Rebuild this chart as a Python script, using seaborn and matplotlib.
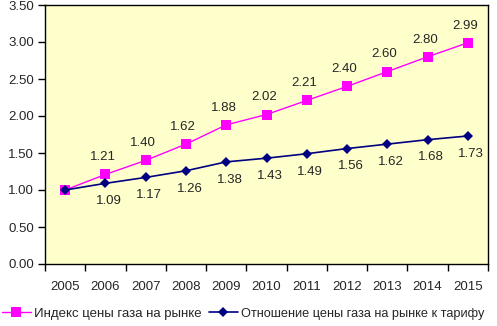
import numpy as np
import pandas as pd
import matplotlib
matplotlib.use("Agg")
import matplotlib.pyplot as plt
from matplotlib.ticker import FixedLocator, FixedFormatter
import seaborn as sns

years = ["2005", "2006", "2007", "2008", "2009", "2010", "2011", "2012", "2013", "2014", "2015"]
market_index = [1.00, 1.21, 1.40, 1.62, 1.88, 2.02, 2.21, 2.40, 2.60, 2.80, 2.99]
price_ratio = [1.00, 1.09, 1.17, 1.26, 1.38, 1.43, 1.49, 1.56, 1.62, 1.68, 1.73]
series_names = ["Индекс цены газа на рынке", "Отношение цены газа на рынке к тарифу"]

sns.set_style("white")
plt.rcParams["font.family"] = ["Liberation Sans", "DejaVu Sans"]
plt.rcParams["font.size"] = 9.5

pos = np.arange(len(years))
df = pd.DataFrame({"pos": pos, "market": market_index, "ratio": price_ratio})

fig = plt.figure(figsize=(4.97, 3.26), dpi=100)
ax = fig.add_axes([45 / 497, 62 / 326, 443 / 497, 259 / 326])
ax.set_facecolor("#FFFFCC")

sns.lineplot(data=df, x="pos", y="market", ax=ax, color="#FF00FF", marker="s",
             markersize=6.5, markeredgewidth=0, linewidth=1, label=series_names[0])
sns.lineplot(data=df, x="pos", y="ratio", ax=ax, color="#000080", marker="D",
             markersize=5.5, markeredgewidth=0, linewidth=1.2, label=series_names[1])

# value labels: market index above, ratio below
for i, v in enumerate(market_index):
    if i == 0:
        continue
    ax.annotate(f"{v:.2f}", (i, v), xytext=(-2, 8), textcoords="offset points",
                ha="center", va="bottom", fontsize=9.5)
for i, v in enumerate(price_ratio):
    if i == 0:
        continue
    ax.annotate(f"{v:.2f}", (i, v), xytext=(2.5, -8.5), textcoords="offset points",
                ha="center", va="top", fontsize=9.5)

ax.set_xlim(-0.5, len(years) - 0.5)
ax.set_ylim(0, 3.5)
ax.set_yticks(np.arange(0, 3.51, 0.5))
ax.set_yticklabels([f"{t:.2f}" for t in np.arange(0, 3.51, 0.5)])
ax.xaxis.set_major_locator(FixedLocator(np.arange(-0.5, len(years), 1.0)))
ax.xaxis.set_major_formatter(FixedFormatter([""] * (len(years) + 1)))
ax.xaxis.set_minor_locator(FixedLocator(pos))
ax.xaxis.set_minor_formatter(FixedFormatter(years))
ax.tick_params(axis="x", which="major", direction="out", length=5, width=1, color="black", bottom=True)
ax.tick_params(axis="x", which="minor", length=0, pad=12, labelsize=9.5)
ax.tick_params(axis="y", direction="out", length=5, width=1, color="black", left=True, labelsize=9.5, pad=3)
ax.set_xlabel("")
ax.set_ylabel("")
for s in ax.spines.values():
    s.set_color("black")
    s.set_linewidth(1)

handles, labels = ax.get_legend_handles_labels()
ax.get_legend().remove()
leg = fig.legend(handles, labels, loc="lower left", bbox_to_anchor=(-0.012, -0.005), ncol=2,
                 frameon=False, handlelength=2.2, handletextpad=0.25, columnspacing=0.5,
                 fontsize=9.5, borderaxespad=0.2)
leg.get_texts()[1].set_fontsize(9.2)

fig.savefig("out.png", dpi=100)
